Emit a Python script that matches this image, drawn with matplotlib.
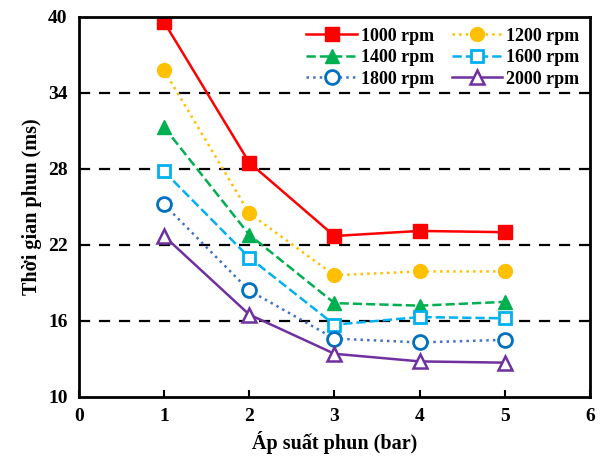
import matplotlib
matplotlib.use('Agg')
import matplotlib.pyplot as plt

plt.rcParams['font.family'] = ['Liberation Serif', 'DejaVu Serif']
plt.rcParams['font.weight'] = 'bold'

x = [1, 2, 3, 4, 5]
rpm_1000 = [39.6, 28.5, 22.7, 23.1, 23.0]
rpm_1200 = [35.8, 24.5, 19.6, 19.9, 19.9]
rpm_1400 = [31.3, 22.8, 17.4, 17.2, 17.5]
rpm_1600 = [27.8, 21.0, 15.7, 16.3, 16.2]
rpm_1800 = [25.2, 18.4, 14.6, 14.3, 14.5]
rpm_2000 = [22.7, 16.5, 13.4, 12.8, 12.7]

fig = plt.figure(figsize=(6.01, 4.68), dpi=100)
ax = fig.add_axes([0.131, 0.152, 0.851, 0.812])

for yv in [16, 22, 28, 34]:
    ax.axhline(yv, color='black', ls=(0, (5, 4)), lw=1.6, zorder=1)

l1, = ax.plot(x, rpm_1000, color='#FF0000', ls='-', lw=1.8, marker='s', ms=10, label='1000 rpm')
l2, = ax.plot(x, rpm_1200, color='#FFC000', ls=':', lw=1.8, marker='o', ms=10, label='1200 rpm')
l3, = ax.plot(x, rpm_1400, color='#00B050', ls='--', lw=1.8, marker='^', ms=10, label='1400 rpm')
l4, = ax.plot(x, rpm_1600, color='#00B0F0', ls='--', lw=1.8, marker='s', ms=9, mfc='white', mew=2, label='1600 rpm')
l5, = ax.plot(x, rpm_1800, color='#4472C4', ls=':', lw=1.8, marker='o', ms=10, mfc='white', mec='#0070C0', mew=2, label='1800 rpm')
l6, = ax.plot(x, rpm_2000, color='#7030A0', ls='-', lw=1.8, marker='^', ms=10, mfc='white', mew=1.8, label='2000 rpm')

ax.set_xlim(0, 6)
ax.set_ylim(10, 40)
ax.set_xticks(range(0, 7))
ax.set_yticks(range(10, 41, 6))
ax.tick_params(direction='in', labelsize=14, width=1.5, length=5, pad=8)
ax.tick_params(axis='y', length=0)
for s in ax.spines.values():
    s.set_linewidth(2)

ax.set_xlabel('Áp suất phun (bar)', fontsize=14.5, fontweight='bold')
ax.set_ylabel('Thời gian phun (ms)', fontsize=14.5, fontweight='bold')

# row-wise legend order like the original
ax.legend([l1, l3, l5, l2, l4, l6],
          ['1000 rpm', '1400 rpm', '1800 rpm', '1200 rpm', '1600 rpm', '2000 rpm'],
          ncol=2, loc='upper right', frameon=False, fontsize=13, handlelength=2.8,
          columnspacing=1.0, handletextpad=0.2, labelspacing=0.25, borderaxespad=0.2)

fig.savefig('out.png', dpi=100)
